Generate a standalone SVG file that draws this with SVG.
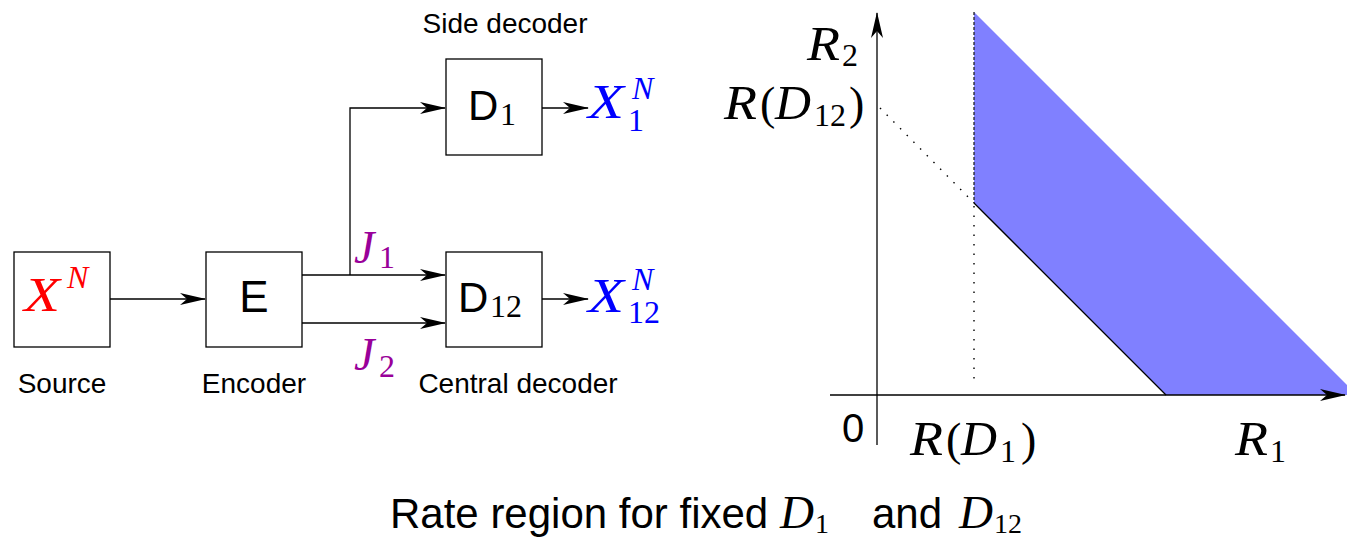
<svg xmlns="http://www.w3.org/2000/svg" width="1347" height="537" viewBox="0 0 1347 537">
<style>
.box{fill:#fff;stroke:#000;stroke-width:1.3}
.ln{fill:none;stroke:#000;stroke-width:1.3}
.sans{font-family:"Liberation Sans",Arial,sans-serif;fill:#000}
.mi{font-family:"Liberation Serif","Times New Roman",serif;font-style:italic}
.mr{font-family:"Liberation Serif","Times New Roman",serif}
.red{fill:#ff0000}.blue{fill:#0000ff}.pur{fill:#990099}
</style>
<defs>
<marker id="ah" markerUnits="userSpaceOnUse" markerWidth="26" markerHeight="12" viewBox="0 0 26 12" refX="25" refY="6" orient="auto">
<path d="M0,0 L26,6 L0,12 L7,6 Z" fill="#000"/>
</marker>
</defs>
<rect width="1347" height="537" fill="#fff"/>

<g id="connectors">
<line class="ln" x1="110" y1="299" x2="205" y2="299" marker-end="url(#ah)"/>
<line class="ln" x1="302" y1="275" x2="445" y2="275" marker-end="url(#ah)"/>
<line class="ln" x1="302" y1="323" x2="445" y2="323" marker-end="url(#ah)"/>
<polyline class="ln" points="350,275 350,108 445,108" marker-end="url(#ah)"/>
<line class="ln" x1="542" y1="108" x2="588" y2="108" marker-end="url(#ah)"/>
<line class="ln" x1="542" y1="299" x2="588" y2="299" marker-end="url(#ah)"/>
<text class="mi pur" x="354" y="263" font-size="46">J</text>
<text class="mr pur" x="379" y="268" font-size="32">1</text>
<text class="mi pur" x="354" y="370" font-size="46">J</text>
<text class="mr pur" x="379" y="377" font-size="32">2</text>
</g>

<g id="source">
<rect class="box" x="14" y="252" width="96" height="95"/>
<text class="mi red" x="24" y="311" font-size="48" textLength="36" lengthAdjust="spacingAndGlyphs">X</text>
<text class="mi red" x="67" y="288" font-size="32">N</text>
<text class="sans" x="62" y="393" font-size="28" text-anchor="middle">Source</text>
</g>

<g id="encoder">
<rect class="box" x="206" y="252" width="96" height="95"/>
<text class="sans" x="254" y="312" font-size="44" text-anchor="middle">E</text>
<text class="sans" x="254" y="393" font-size="28" text-anchor="middle">Encoder</text>
</g>

<g id="d1">
<rect class="box" x="446" y="59" width="96" height="96"/>
<text class="sans" x="468" y="120" font-size="42">D</text>
<text class="mr" x="500" y="125" font-size="32">1</text>
<text class="sans" x="505" y="33" font-size="28" text-anchor="middle">Side decoder</text>
</g>

<g id="d12">
<rect class="box" x="446" y="252" width="96" height="95"/>
<text class="sans" x="458" y="312" font-size="42">D</text>
<text class="mr" x="490" y="317" font-size="32">12</text>
<text class="sans" x="518" y="393" font-size="28" text-anchor="middle">Central decoder</text>
</g>

<g id="out1">
<text class="mi blue" x="588" y="118" font-size="48" textLength="36" lengthAdjust="spacingAndGlyphs">X</text>
<text class="mr blue" x="628" y="131" font-size="32">1</text>
<text class="mi blue" x="632" y="99" font-size="32">N</text>
</g>

<g id="out12">
<text class="mi blue" x="588" y="312" font-size="48" textLength="36" lengthAdjust="spacingAndGlyphs">X</text>
<text class="mr blue" x="628" y="323" font-size="32">12</text>
<text class="mi blue" x="632" y="290" font-size="32">N</text>
</g>

<g id="graph">
<polygon points="974,12 974,203 1166,395 1347,395 1347,385" fill="#8080ff"/>
<line class="ln" x1="974" y1="203" x2="1166" y2="395"/>
<line x1="974" y1="12" x2="974" y2="203" stroke="#222" stroke-width="1.3" stroke-dasharray="3 2"/>
<line x1="880" y1="108" x2="974" y2="203" stroke="#000" stroke-width="1.4" stroke-dasharray="1.5 8"/>
<line x1="974" y1="206" x2="974" y2="382" stroke="#000" stroke-width="1.4" stroke-dasharray="1.5 8"/>
<line class="ln" x1="877" y1="445" x2="877" y2="13" marker-end="url(#ah)"/>
<line class="ln" x1="830" y1="395" x2="1345" y2="395" marker-end="url(#ah)"/>
<text class="mi" x="807" y="60" font-size="48" textLength="33" lengthAdjust="spacingAndGlyphs">R</text>
<text class="mr" x="842" y="66" font-size="32">2</text>
<text class="mi" x="724" y="119" font-size="48" textLength="33" lengthAdjust="spacingAndGlyphs">R</text>
<text class="mr" x="760" y="119" font-size="46">(</text>
<text class="mi" x="775" y="119" font-size="48" textLength="36" lengthAdjust="spacingAndGlyphs">D</text>
<text class="mr" x="814" y="126" font-size="32">12</text>
<text class="mr" x="849" y="119" font-size="46">)</text>
<text class="sans" x="842" y="442" font-size="40">0</text>
<text class="mi" x="910" y="455" font-size="48" textLength="33" lengthAdjust="spacingAndGlyphs">R</text>
<text class="mr" x="946" y="455" font-size="46">(</text>
<text class="mi" x="961" y="455" font-size="48" textLength="36" lengthAdjust="spacingAndGlyphs">D</text>
<text class="mr" x="1000" y="462" font-size="32">1</text>
<text class="mr" x="1021" y="455" font-size="46">)</text>
<text class="mi" x="1235" y="455" font-size="48" textLength="33" lengthAdjust="spacingAndGlyphs">R</text>
<text class="mr" x="1270" y="462" font-size="32">1</text>
</g>

<g id="title">
<text class="sans" x="390" y="528" font-size="42">Rate region for fixed</text>
<text class="mi" x="780" y="528" font-size="46" textLength="34" lengthAdjust="spacingAndGlyphs">D</text>
<text class="mr" x="815" y="533" font-size="28">1</text>
<text class="sans" x="872" y="528" font-size="42">and</text>
<text class="mi" x="959" y="528" font-size="46" textLength="34" lengthAdjust="spacingAndGlyphs">D</text>
<text class="mr" x="994" y="533" font-size="28">12</text>
</g>
</svg>
